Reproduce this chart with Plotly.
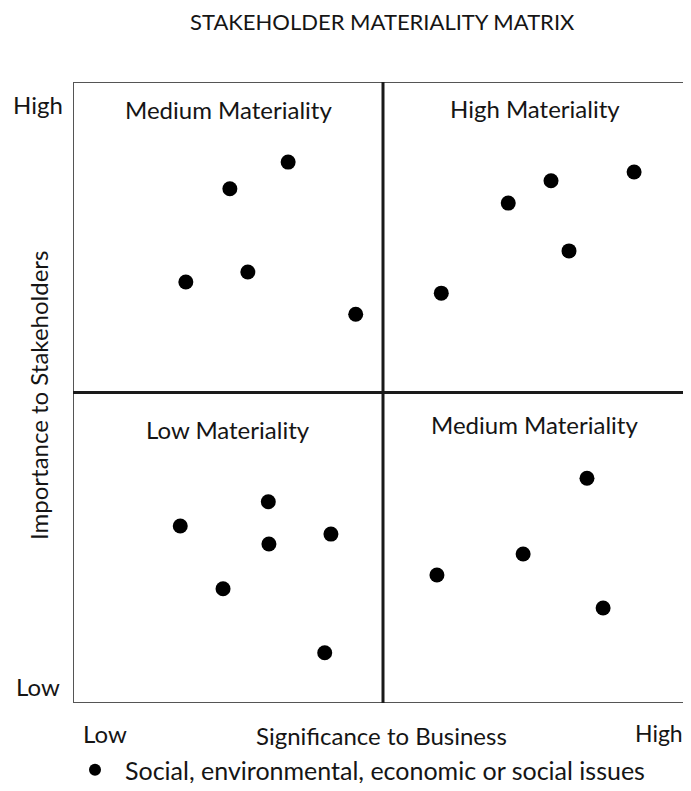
import plotly.graph_objects as go

# Data: significance to business (x), importance to stakeholders (y), scale 0-10
sig_business = [3.47, 2.53, 2.82, 1.82, 4.56,
                9.05, 7.71, 7.02, 8.00, 5.94,
                3.15, 1.73, 4.16, 3.16, 2.42, 4.06,
                8.29, 7.26, 5.87, 8.55]
imp_stakeholders = [8.71, 8.28, 6.94, 6.78, 6.26,
                    8.55, 8.41, 8.05, 7.28, 6.60,
                    3.24, 2.85, 2.72, 2.56, 1.84, 0.81,
                    3.62, 2.40, 2.06, 1.53]
series_name = "Social, environmental, economic or social issues"
quadrant_labels = ["Medium Materiality", "High Materiality", "Low Materiality", "Medium Materiality"]
quadrant_pos = [(2.5, 9.55), (7.45, 9.58), (2.5, 4.4), (7.45, 4.48)]

FONT = "Lato, Open Sans, sans-serif"
TXT = "#151515"

# page has an 8px body margin; the figure is sized to fit inside it
OFF = 8
W, H = 675, 775
L, R, T, B = 65, 0, 74, 80
pw = W - L - R
ph = H - T - B


def px_x(p):
    return (p - OFF - L) / pw


def px_y(p):
    return (H - B - (p - OFF)) / ph


fig = go.Figure()
fig.add_trace(go.Scatter(
    x=sig_business, y=imp_stakeholders, mode="markers", name=series_name,
    marker=dict(color="black", size=15), showlegend=True, cliponaxis=False))

fig.add_shape(type="rect", x0=0, x1=10, y0=0, y1=10, xref="x", yref="y",
              line=dict(color="#555555", width=2), layer="below")
line_dark = dict(color="#1a1a1a", width=3)
fig.add_shape(type="line", x0=5, x1=5, y0=0, y1=10, xref="x", yref="y", line=line_dark)
fig.add_shape(type="line", x0=0, x1=10, y0=5, y1=5, xref="x", yref="y", line=line_dark)

annos = []
for txt, (qx, qy) in zip(quadrant_labels, quadrant_pos):
    annos.append(dict(x=qx, y=qy, xref="x", yref="y", text=txt, showarrow=False,
                      font=dict(size=24, color=TXT, family=FONT)))

extra = [
    (382, 21, "STAKEHOLDER MATERIALITY MATRIX", 22),
    (38, 104, "High", 24),
    (38, 686, "Low", 24),
    (105, 733, "Low", 24),
    (381, 735, "Significance to Business", 24),
    (659, 733, "High", 23),
]
for ex, ey, txt, sz in extra:
    annos.append(dict(x=px_x(ex), y=px_y(ey), xref="paper", yref="paper", text=txt,
                      showarrow=False, xanchor="center", yanchor="middle",
                      font=dict(size=sz, color=TXT, family=FONT)))
annos.append(dict(x=px_x(38), y=px_y(396), xref="paper", yref="paper",
                  text="Importance to Stakeholders", textangle=-90, showarrow=False,
                  xanchor="center", yanchor="middle",
                  font=dict(size=24, color=TXT, family=FONT)))

fig.update_layout(
    width=W, height=H,
    margin=dict(l=L, r=R, t=T, b=B, autoexpand=False),
    plot_bgcolor="white", paper_bgcolor="white",
    annotations=annos,
    xaxis=dict(range=[0, 10 * pw / 620], showgrid=False, zeroline=False,
               showticklabels=False, ticks="", fixedrange=True),
    yaxis=dict(range=[0, 10], showgrid=False, zeroline=False,
               showticklabels=False, ticks="", fixedrange=True),
    showlegend=True,
    legend=dict(orientation="h", x=px_x(65), y=px_y(770), xanchor="left", yanchor="middle",
                font=dict(size=25, color=TXT, family=FONT), itemsizing="constant",
                itemwidth=50, bgcolor="rgba(0,0,0,0)"),
    font=dict(family=FONT),
)

fig.write_html("out.html")
